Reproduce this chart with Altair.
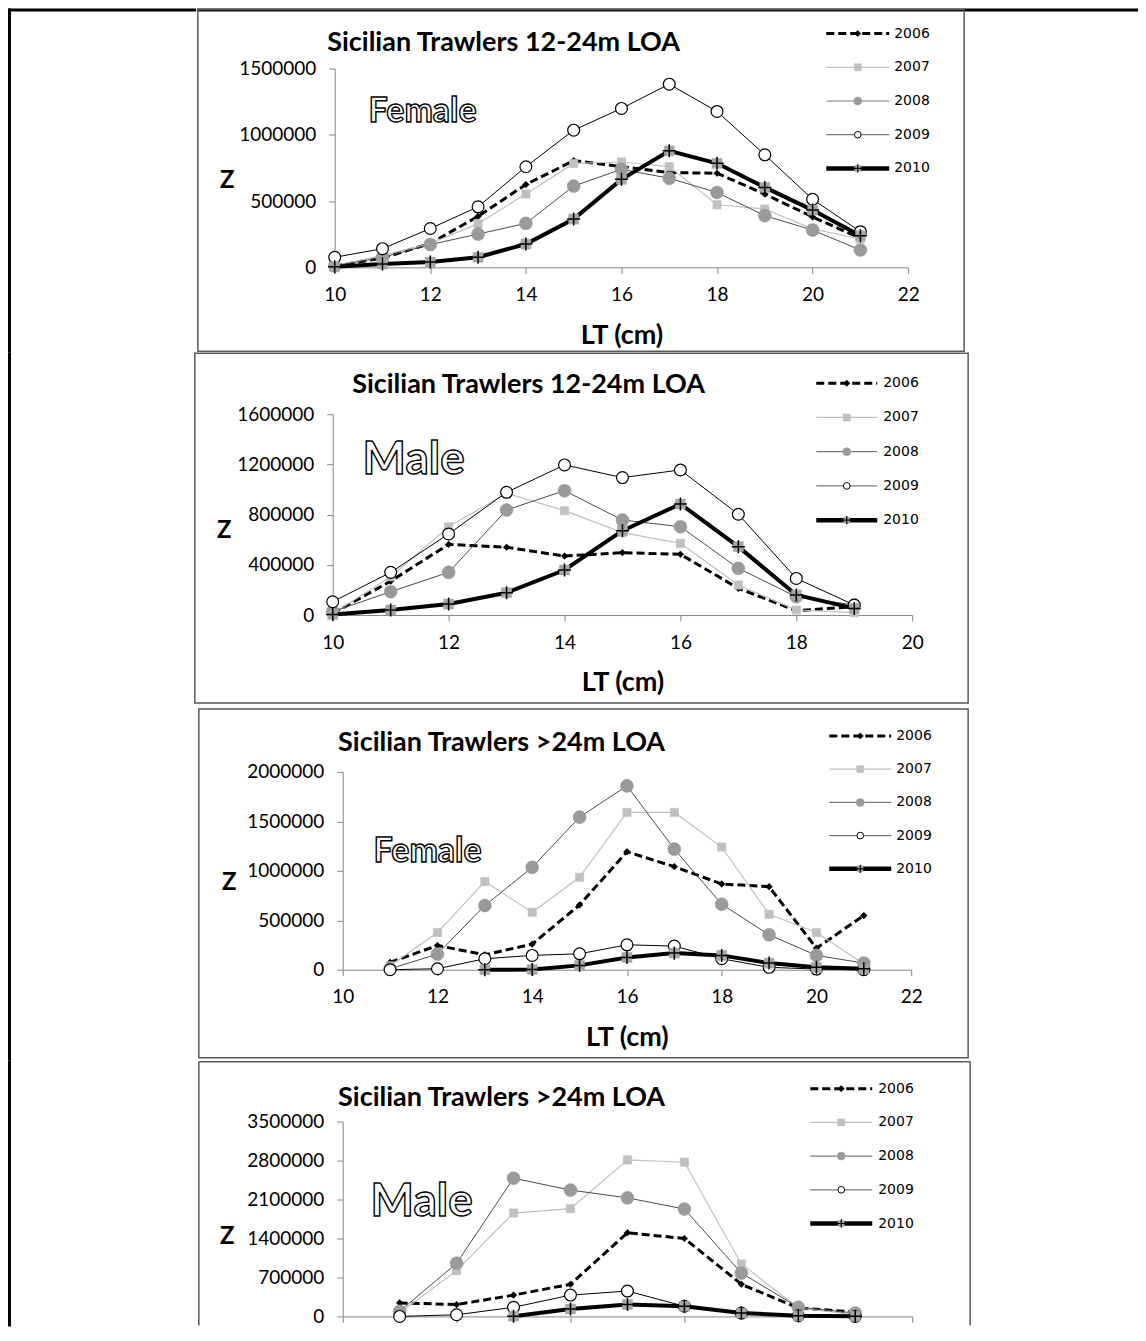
import altair as alt
import pandas as pd

YEARS = ["2006", "2007", "2008", "2009", "2010"]

# ---- Panel 1: Sicilian Trawlers 12-24m LOA, Female ----
LT_1 = [10, 11, 12, 13, 14, 15, 16, 17, 18, 19, 20, 21]
P1_2006 = [10000, 70000, 180000, 385000, 625000, 805000, 760000, 715000, 710000, 553000, 380000, 220000]
P1_2007 = [12000, 90000, 180000, 330000, 553000, 784000, 795000, 760000, 472000, 440000, 290000, 214000]
P1_2008 = [12000, 75000, 172000, 251000, 332000, 613000, 740000, 672000, 565000, 390000, 281000, 131000]
P1_2009 = [76000, 141000, 293000, 457000, 759000, 1035000, 1199000, 1382000, 1176000, 849000, 513000, 269000]
P1_2010 = [5000, 25000, 40000, 76000, 176000, 364000, 664000, 879000, 785000, 603000, 432000, 239000]

# ---- Panel 2: Sicilian Trawlers 12-24m LOA, Male ----
LT_2 = [10, 11, 12, 13, 14, 15, 16, 17, 18, 19]
P2_2006 = [13000, 270000, 563000, 540000, 470000, 497000, 484000, 213000, 35000, 66000]
P2_2007 = [13000, 305000, 704000, 970000, 832000, 657000, 571000, 239000, 40000, 19000]
P2_2008 = [27000, 186000, 340000, 837000, 991000, 757000, 704000, 372000, 146000, 80000]
P2_2009 = [106000, 340000, 646000, 978000, 1196000, 1095000, 1156000, 803000, 292000, 80000]
P2_2010 = [5000, 40000, 88000, 178000, 359000, 672000, 885000, 545000, 160000, 53000]

# ---- Panel 3: Sicilian Trawlers >24m LOA, Female ----
LT_3 = [11, 12, 13, 14, 15, 16, 17, 18, 19, 20, 21]
P3_2006 = [75000, 245000, 151000, 259000, 655000, 1193000, 1042000, 867000, 840000, 218000, 548000]
P3_2007 = [40000, 376000, 891000, 581000, 934000, 1590000, 1590000, 1240000, 561000, 376000, 57000]
P3_2008 = [10000, 158000, 649000, 1035000, 1543000, 1859000, 1220000, 662000, 353000, 145000, 67000]
P3_2009 = [0, 10000, 111000, 145000, 161000, 252000, 239000, 111000, 24000, 7000, 0]
P3_2010 = [None, None, 0, 2000, 44000, 124000, 168000, 145000, 67000, 24000, 10000]

# ---- Panel 4: Sicilian Trawlers >24m LOA, Male ----
LT_4 = [11, 12, 13, 14, 15, 16, 17, 18, 19]
P4_2006 = [243000, 213000, 383000, 578000, 1503000, 1400000, 578000, 152000, 79000]
P4_2007 = [61000, 822000, 1857000, 1936000, 2812000, 2770000, 943000, 152000, 30000]
P4_2008 = [91000, 956000, 2483000, 2270000, 2130000, 1930000, 779000, 164000, 61000]
P4_2009 = [0, 30000, 164000, 383000, 456000, 183000, 61000, 12000, 0]
P4_2010 = [None, None, 5000, 134000, 213000, 183000, 61000, 12000, 5000]

TITLE_A = "Sicilian Trawlers 12-24m LOA"
TITLE_B = "Sicilian Trawlers >24m LOA"


def long_df(lt, series):
    rows = []
    for yr, vals in zip(YEARS, series):
        for x, v in zip(lt, vals):
            if v is not None:
                rows.append({"LT": x, "N": v, "year": yr})
    return pd.DataFrame(rows)


FONT = "Lato"
LEGFONT = "DejaVu Sans"
AX = "#868686"
BOX = "#5a5a5a"
BOXW = 1.5
CROSS = "M-1,0L1,0M0,-1L0,1"

STYLE = {
    "2006": dict(line=dict(color="black", strokeWidth=3, strokeDash=[8, 4]),
                 marks=[dict(shape="diamond", fill="black", stroke="black", strokeWidth=0.5, size=45)],
                 leg_line=dict(color="black", strokeWidth=3, strokeDash=[8, 4]),
                 leg=[dict(shape="diamond", fill="black", stroke="black", strokeWidth=0.5, size=40)]),
    "2007": dict(line=dict(color="#c0c0c0", strokeWidth=1.2),
                 marks=[dict(shape="square", fill="#c0c0c0", stroke="#c0c0c0", strokeWidth=0.5, size=70)],
                 leg_line=dict(color="#c0c0c0", strokeWidth=1.2),
                 leg=[dict(shape="square", fill="#c0c0c0", stroke="#c0c0c0", strokeWidth=0.5, size=50)]),
    "2008": dict(line=dict(color="#4a4a4a", strokeWidth=1),
                 marks=[dict(shape="circle", fill="#9a9a9a", stroke="#9a9a9a", strokeWidth=0.5, size=170)],
                 leg_line=dict(color="#7a7a7a", strokeWidth=1.2),
                 leg=[dict(shape="circle", fill="#9a9a9a", stroke="#9a9a9a", strokeWidth=0.5, size=64)]),
    "2009": dict(line=dict(color="black", strokeWidth=1),
                 marks=[dict(shape="circle", fill="white", stroke="black", strokeWidth=1.2, size=140)],
                 leg_line=dict(color="#7a7a7a", strokeWidth=1.2),
                 leg=[dict(shape="circle", fill="white", stroke="black", strokeWidth=1, size=45)]),
    "2010": dict(line=dict(color="black", strokeWidth=4),
                 marks=[dict(shape="square", fill="#a6a6a6", stroke="#a6a6a6", strokeWidth=0.5, size=100),
                        dict(shape=CROSS, filled=False, stroke="black", strokeWidth=1.5, size=170)],
                 leg_line=dict(color="black", strokeWidth=4.5),
                 leg=[dict(shape="square", fill="#a6a6a6", stroke="#a6a6a6", strokeWidth=0.5, size=36),
                      dict(shape=CROSS, filled=False, stroke="black", strokeWidth=1.2, size=70)]),
}

ONE = pd.DataFrame({"k": [0]})

# Layout of each panel in page pixels
PANELS = [
    dict(title=TITLE_A, label="Female", lt=LT_1,
         series=[P1_2006, P1_2007, P1_2008, P1_2009, P1_2010],
         xdom=[10, 22], xticks=[10, 12, 14, 16, 18, 20, 22],
         ydom=[0, 1500000], yticks=[0, 500000, 1000000, 1500000],
         plot=(334, 68, 574, 199), box=(197, 9, 964, 351, True), region=(8, 352),
         title_xy=(503, 42), label_xy=(422, 112), label_size=34, z_xy=(226, 180),
         leg=(826, 889, 894, 33, 168), top_line=True, xlabels=True),
    dict(title=TITLE_A, label="Male", lt=LT_2,
         series=[P2_2006, P2_2007, P2_2008, P2_2009, P2_2010],
         xdom=[10, 20], xticks=[10, 12, 14, 16, 18, 20],
         ydom=[0, 1600000], yticks=[0, 400000, 800000, 1200000, 1600000],
         plot=(332, 414, 580, 201), box=(194, 353, 968, 703, True), region=(352, 708),
         title_xy=(528, 385), label_xy=(413, 460), label_size=46, z_xy=(223, 530),
         leg=(816, 877, 883, 383, 520), top_line=False, xlabels=True),
    dict(title=TITLE_B, label="Female", lt=LT_3,
         series=[P3_2006, P3_2007, P3_2008, P3_2009, P3_2010],
         xdom=[10, 22], xticks=[10, 12, 14, 16, 18, 20, 22],
         ydom=[0, 2000000], yticks=[0, 500000, 1000000, 1500000, 2000000],
         plot=(342, 772, 569, 198), box=(198, 709, 968, 1058, True), region=(708, 1061),
         title_xy=(501, 743), label_xy=(427, 852), label_size=34, z_xy=(228, 883),
         leg=(829, 891, 896, 736, 869), top_line=False, xlabels=True),
    dict(title=TITLE_B, label="Male", lt=LT_4,
         series=[P4_2006, P4_2007, P4_2008, P4_2009, P4_2010],
         xdom=[10, 20], xticks=[10, 12, 14, 16, 18, 20],
         ydom=[0, 3500000], yticks=[0, 700000, 1400000, 2100000, 2800000, 3500000],
         plot=(342, 1122, 570, 195), box=(198, 1062, 970, 1326, False), region=(1061, 1327),
         title_xy=(501, 1098), label_xy=(421, 1202), label_size=46, z_xy=(226, 1237),
         leg=(810, 872, 878, 1089, 1224), top_line=False, xlabels=False),
]

PAGE_L = 8  # left edge of the drawing on the page


def make_row(c):
    px, py, w, h = c["plot"]
    bx0, by0, bx1, by1, closed = c["box"]
    box_left = bx0 - BOXW / 2
    spacer_w = box_left - PAGE_L

    def rx(v):
        return v - px

    def ry(v):
        return v - py

    one = alt.Chart(ONE)

    # ---- left strip: thick outer table line (and start of the top line) ----
    t0, t1 = c["region"]
    strip = [one.mark_rect(color="black").encode(
        x=alt.value(0), x2=alt.value(3), y=alt.value(ry(t0)), y2=alt.value(ry(t1)))]
    if c["top_line"]:
        strip.append(one.mark_rect(color="black").encode(
            x=alt.value(0), x2=alt.value(spacer_w), y=alt.value(ry(8)), y2=alt.value(ry(11))))
    spacer = alt.layer(*strip).properties(width=spacer_w, height=1)

    # ---- panel decorations ----
    deco = []
    if c["top_line"]:
        deco.append(one.mark_rect(color="black").encode(
            x=alt.value(rx(box_left)), x2=alt.value(rx(1138)), y=alt.value(ry(8)), y2=alt.value(ry(11))))
    if closed:
        deco.append(one.mark_rect(fillOpacity=0, stroke=BOX, strokeWidth=BOXW).encode(
            x=alt.value(rx(bx0)), x2=alt.value(rx(bx1)), y=alt.value(ry(by0)), y2=alt.value(ry(by1))))
    else:
        deco.append(one.mark_rule(color=BOX, strokeWidth=BOXW).encode(
            x=alt.value(rx(bx0)), x2=alt.value(rx(bx1)), y=alt.value(ry(by0))))
        deco.append(one.mark_rule(color=BOX, strokeWidth=BOXW).encode(
            x=alt.value(rx(bx0)), y=alt.value(ry(by0)), y2=alt.value(ry(by1))))
        deco.append(one.mark_rule(color=BOX, strokeWidth=BOXW).encode(
            x=alt.value(rx(bx1)), y=alt.value(ry(by0)), y2=alt.value(ry(by1))))
    tx, ty = c["title_xy"]
    deco.append(one.mark_text(text=c["title"], font=FONT, fontSize=27, fontWeight="bold",
                              align="center", baseline="middle", color="black").encode(
        x=alt.value(rx(tx)), y=alt.value(ry(ty))))
    lx, ly = c["label_xy"]
    deco.append(one.mark_text(text=c["label"], font=FONT, fontSize=c["label_size"], fontWeight="bold",
                              align="center", baseline="middle", fill="white", stroke="black",
                              strokeWidth=1.4).encode(
        x=alt.value(rx(lx)), y=alt.value(ry(ly))))

    zx, zy = c["z_xy"]
    xaxis = alt.Axis(values=c["xticks"], title="LT (cm)" if c["xlabels"] else "",
                     labels=c["xlabels"], grid=False,
                     labelFont=FONT, labelFontSize=19, labelColor="black", labelPadding=12,
                     labelFlush=False, labelOverlap=False, tickSize=6, tickColor=AX,
                     domainColor=AX, titleFont=FONT, titleFontSize=27, titleFontWeight="bold",
                     titleColor="black", titleY=68, titleBaseline="middle")
    yaxis = alt.Axis(values=c["yticks"], format="d", title="Z", grid=False,
                     labelFont=FONT, labelFontSize=19, labelColor="black", labelPadding=13,
                     tickSize=6, tickColor=AX, domainColor=AX,
                     titleFont=FONT, titleFontSize=24, titleFontWeight="bold", titleColor="black",
                     titleAngle=0, titleX=zx - px, titleY=zy - py, titleAlign="center",
                     titleBaseline="middle")
    X = alt.X("LT:Q", scale=alt.Scale(domain=c["xdom"], nice=False, zero=False), axis=xaxis)
    Y = alt.Y("N:Q", scale=alt.Scale(domain=c["ydom"], nice=False), axis=yaxis)

    base = alt.Chart(long_df(c["lt"], c["series"]))
    data_layers = []
    for yr in YEARS:
        st = STYLE[yr]
        sub = base.transform_filter(alt.datum.year == yr)
        data_layers.append(sub.mark_line(**st["line"]).encode(x=X, y=Y))
        for mk in st["marks"]:
            data_layers.append(sub.mark_point(opacity=1, **({"filled": True} | mk)).encode(x=X, y=Y))
    data_group = alt.layer(*data_layers)

    l0, l1, ltx, r0, r1 = c["leg"]
    LY = alt.Y("year:O", scale=alt.Scale(type="point", domain=YEARS, range=[ry(r0), ry(r1)], padding=0),
               axis=None)
    lbase = alt.Chart(pd.DataFrame({"year": YEARS}))
    leg_layers = []
    for yr in YEARS:
        st = STYLE[yr]
        sub = lbase.transform_filter(alt.datum.year == yr)
        leg_layers.append(sub.mark_rule(**st["leg_line"]).encode(
            x=alt.value(rx(l0)), x2=alt.value(rx(l1)), y=LY))
        for mk in st["leg"]:
            leg_layers.append(sub.mark_point(opacity=1, **({"filled": True} | mk)).encode(
                x=alt.value(rx((l0 + l1) / 2)), y=LY))
    leg_layers.append(lbase.mark_text(align="left", baseline="middle", font=LEGFONT, fontSize=14,
                                      color="black").encode(
        x=alt.value(rx(ltx)), y=LY, text="year:N"))
    leg_group = alt.layer(*leg_layers)

    panel = alt.layer(alt.layer(*deco), data_group, leg_group).resolve_scale(
        y="independent").properties(width=w, height=h)
    return alt.hconcat(spacer, panel, spacing=0)


chart = alt.vconcat(*[make_row(p) for p in PANELS], spacing=0).properties(
    padding=0, background="white").configure_view(stroke=None)

chart.save("out.html", embed_options={"renderer": "svg", "actions": False})
